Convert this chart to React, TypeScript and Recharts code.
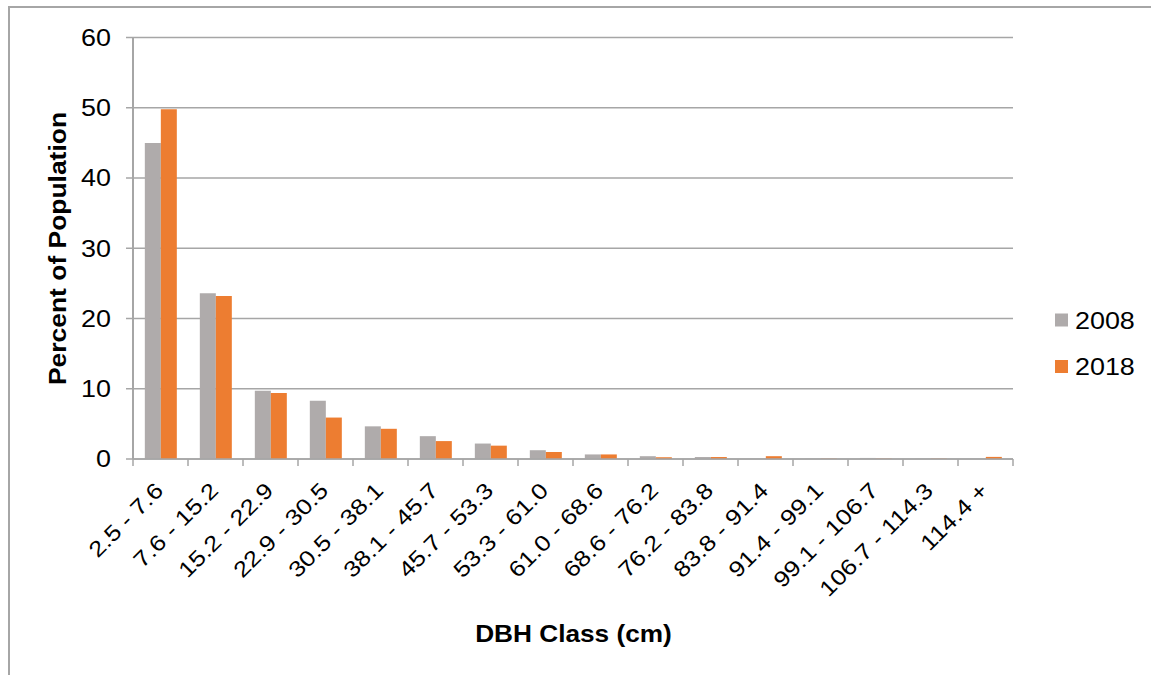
import React from "react";
import { BarChart, Bar, XAxis, YAxis, CartesianGrid } from "recharts";

// DBH size classes (cm)
const dbhClasses = [
  "2.5 - 7.6",
  "7.6 - 15.2",
  "15.2 - 22.9",
  "22.9 - 30.5",
  "30.5 - 38.1",
  "38.1 - 45.7",
  "45.7 - 53.3",
  "53.3 - 61.0",
  "61.0 - 68.6",
  "68.6 - 76.2",
  "76.2 - 83.8",
  "83.8 - 91.4",
  "91.4 - 99.1",
  "99.1 - 106.7",
  "106.7 - 114.3",
  "114.4 +",
];

// Percent of population per class
const pct2008 = [45.0, 23.6, 9.7, 8.3, 4.65, 3.25, 2.2, 1.25, 0.65, 0.4, 0.28, 0.05, 0.05, 0.15, 0.03, 0.03];
const pct2018 = [49.8, 23.2, 9.4, 5.9, 4.3, 2.55, 1.9, 1.0, 0.65, 0.25, 0.28, 0.4, 0.05, 0.05, 0.05, 0.3];

const yTicks = [0, 10, 20, 30, 40, 50, 60];

const seriesNames = ["2008", "2018"];
const GREY = "#AFABAB";
const ORANGE = "#ED7D31";
const AXIS = "#A6A6A6";
const FONT = "'Liberation Sans', Arial, sans-serif";
// horizontal widening of the glyphs
const WIDE = 1.17;

const data = dbhClasses.map((c, i) => ({
  dbh: c,
  y2008: pct2008[i],
  y2018: pct2018[i],
}));

const XTick = (props: any) => {
  const { x, y, payload, index } = props;
  const half = payload && typeof payload.offset === "number" ? payload.offset : 27.5;
  const last = index === dbhClasses.length - 1;
  return (
    <g>
      <line x1={x - half} x2={x - half} y1={y - 7} y2={y} stroke={AXIS} strokeWidth={1.5} />
      {last && <line x1={x + half} x2={x + half} y1={y - 7} y2={y} stroke={AXIS} strokeWidth={1.5} />}
      <text
        x={0}
        y={0}
        transform={`translate(${x + 4},${y + 26}) rotate(-45) scale(${WIDE},1)`}
        textAnchor="end"
        fontSize={22}
        fontFamily={FONT}
        fill="#000"
      >
        {payload.value}
      </text>
    </g>
  );
};

const YTick = (props: any) => {
  const { x, y, payload } = props;
  return (
    <text
      x={0}
      y={0}
      dy="0.36em"
      transform={`translate(${x},${y}) scale(${WIDE},1)`}
      textAnchor="end"
      fontSize={23}
      fontFamily={FONT}
      fill="#000"
    >
      {payload.value}
    </text>
  );
};

export default function App() {
  return (
    <div style={{ position: "absolute", left: 0, top: 0, width: 1151, height: 675, background: "#fff", overflow: "hidden" }}>
      <div
        style={{
          position: "absolute",
          left: 8,
          top: 6,
          width: 1200,
          height: 700,
          borderLeft: `2px solid ${AXIS}`,
          borderTop: `2px solid ${AXIS}`,
          boxSizing: "border-box",
        }}
      />
      <BarChart
        width={1151}
        height={675}
        data={data}
        margin={{ top: 37.5, right: 138, left: 0, bottom: 76 }}
        barCategoryGap="21.5%"
        barGap={0}
        style={{ position: "absolute", left: 0, top: 0 }}
      >
        <CartesianGrid vertical={false} stroke={AXIS} strokeWidth={1.5} />
        <XAxis
          dataKey="dbh"
          interval={0}
          height={140}
          tickSize={7}
          tickMargin={0}
          tickLine={false}
          axisLine={{ stroke: AXIS, strokeWidth: 1.5 }}
          tick={<XTick />}
        />
        <YAxis
          width={133}
          domain={[0, 60]}
          ticks={yTicks}
          interval={0}
          tickSize={7}
          tickMargin={15}
          tickLine={{ stroke: AXIS, strokeWidth: 1.5 }}
          axisLine={{ stroke: AXIS, strokeWidth: 2 }}
          tick={<YTick />}
        />
        <Bar dataKey="y2008" name={seriesNames[0]} fill={GREY} isAnimationActive={false} />
        <Bar dataKey="y2018" name={seriesNames[1]} fill={ORANGE} isAnimationActive={false} />
        <text
          x={0}
          y={0}
          transform="translate(58,248.5) rotate(-90) scale(1.15,1)"
          textAnchor="middle"
          dominantBaseline="central"
          fontSize={23}
          fontWeight="bold"
          fontFamily={FONT}
          fill="#000"
        >
          Percent of Population
        </text>
        <text
          x={0}
          y={0}
          transform="translate(573.5,642) scale(1.14,1)"
          textAnchor="middle"
          fontSize={23}
          fontWeight="bold"
          fontFamily={FONT}
          fill="#000"
        >
          DBH Class (cm)
        </text>
        <g>
          <rect x={1055} y={313.5} width={13} height={13} fill={GREY} />
          <text x={0} y={0} transform={`translate(1075,328.5) scale(${WIDE},1)`} fontSize={23} fontFamily={FONT} fill="#000">
            {seriesNames[0]}
          </text>
          <rect x={1055} y={360} width={13} height={13} fill={ORANGE} />
          <text x={0} y={0} transform={`translate(1075,375) scale(${WIDE},1)`} fontSize={23} fontFamily={FONT} fill="#000">
            {seriesNames[1]}
          </text>
        </g>
      </BarChart>
    </div>
  );
}
